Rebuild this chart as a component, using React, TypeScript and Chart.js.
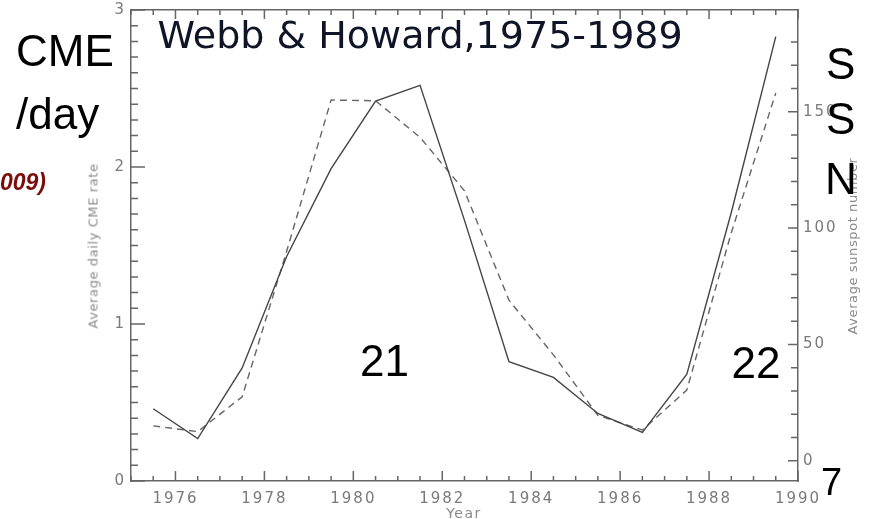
import React, { useEffect, useRef } from 'react';
import { Chart, registerables } from 'chart.js';

Chart.register(...registerables);

// ---- data ----
const years = [1975.5, 1976.5, 1977.5, 1978.5, 1979.5, 1980.5, 1981.5, 1982.5, 1983.5, 1984.5, 1985.5, 1986.5, 1987.5, 1988.5, 1989.5];
const cmeRate = [0.46, 0.27, 0.72, 1.43, 1.99, 2.42, 2.52, 1.66, 0.76, 0.66, 0.43, 0.31, 0.68, 1.71, 2.83];
const sunspotNumber = [15.0, 12.5, 27.5, 90.0, 155.0, 154.7, 139.0, 116.0, 69.0, 45.5, 19.5, 13.2, 30.4, 98.0, 158.0];

// ---- axes ----
const xRange = [1975, 1990];
const yLeftRange = [0, 3];
const yRightRange = [-8.7, 193.7];
const xMajorTicks = [1976, 1978, 1980, 1982, 1984, 1986, 1988, 1990];
const yLeftMajorTicks = [0, 1, 2, 3];
const yRightMajorTicks = [0, 50, 100, 150];
const xMinorStep = 0.5;
const yLeftMinorStep = 0.1;
const yRightMinorStep = 10;
const yRightTickMax = 180;

const AXIS_COLOR = '#666666';
const LABEL_COLOR = '#7a7a7a';

function stepTicks(from: number, to: number, step: number): number[] {
  const out: number[] = [];
  const n = Math.round((to - from) / step);
  for (let i = 0; i <= n; i++) out.push(+(from + i * step).toFixed(4));
  return out;
}
const isMajor = (v: number, list: number[]) => list.some((m) => Math.abs(m - v) < 1e-6);

const xTicks = stepTicks(xRange[0], xRange[1], xMinorStep);
const yLeftTicks = stepTicks(yLeftRange[0], yLeftRange[1], yLeftMinorStep);
const yRightTicks = stepTicks(0, yRightTickMax, yRightMinorStep);

// inward tick marks on all four sides, placed through the chart's own scales
const innerTicks = {
  id: 'innerTicks',
  beforeDraw(chart: any) {
    chart.ctx.letterSpacing = '2px';
  },
  afterDraw(chart: any) {
    const ctx = chart.ctx;
    const a = chart.chartArea;
    const xs = chart.scales['x'];
    const ys = chart.scales['y'];
    const ys2 = chart.scales['y2'];
    ctx.save();
    ctx.setLineDash([]);
    ctx.strokeStyle = AXIS_COLOR;
    ctx.lineWidth = 1.5;
    ctx.beginPath();
    for (const v of xTicks) {
      const px = xs.getPixelForValue(v);
      const major = isMajor(v, xMajorTicks);
      ctx.moveTo(px, a.bottom);
      ctx.lineTo(px, a.bottom - (major ? 10 : 5));
      ctx.moveTo(px, a.top);
      ctx.lineTo(px, a.top + (major ? 9 : 5));
    }
    for (const v of yLeftTicks) {
      const py = ys.getPixelForValue(v);
      ctx.moveTo(a.left, py);
      ctx.lineTo(a.left + (isMajor(v, yLeftMajorTicks) ? 14 : 7), py);
    }
    for (const v of yRightTicks) {
      const py = ys2.getPixelForValue(v);
      ctx.moveTo(a.right, py);
      ctx.lineTo(a.right - (isMajor(v, yRightMajorTicks) ? 10 : 7), py);
    }
    ctx.stroke();
    ctx.restore();
  },
};

const tickFont = { family: '"DejaVu Sans", sans-serif', size: 15 };

export default function App() {
  const ref = useRef<HTMLCanvasElement | null>(null);

  useEffect(() => {
    document.body.style.margin = '0';
    const canvas = ref.current;
    if (!canvas) return;
    const chart = new Chart(canvas, {
      type: 'line',
      data: {
        datasets: [
          { label: 'Average daily CME rate', data: years.map((x, i) => ({ x, y: cmeRate[i] })), borderColor: '#444444', borderWidth: 1.4, pointRadius: 0, tension: 0, xAxisID: 'x', yAxisID: 'y' },
          { label: 'Average sunspot number', data: years.map((x, i) => ({ x, y: sunspotNumber[i] })), borderColor: '#666666', borderWidth: 1.4, borderDash: [7, 5], pointRadius: 0, tension: 0, xAxisID: 'x', yAxisID: 'y2' },
        ],
      },
      plugins: [innerTicks],
      options: {
        animation: false,
        responsive: false,
        devicePixelRatio: 1,
        layout: { padding: 0 },
        plugins: { legend: { display: false }, tooltip: { enabled: false } },
        scales: {
          x: {
            type: 'linear', position: 'bottom', min: xRange[0], max: xRange[1],
            afterBuildTicks: (s: any) => { s.ticks = xTicks.map((value) => ({ value })); },
            afterFit: (s: any) => { s.height = 38; s.paddingLeft = 0; s.paddingRight = 0; },
            grid: { display: false, drawTicks: false },
            border: { display: true, color: AXIS_COLOR, width: 1.5 },
            ticks: { autoSkip: false, maxRotation: 0, minRotation: 0, padding: 9, color: LABEL_COLOR, font: tickFont, callback: (v: any) => (isMajor(Number(v), xMajorTicks) ? String(v) : '') },
          },
          xTop: {
            type: 'linear', position: 'top', min: xRange[0], max: xRange[1],
            afterFit: (s: any) => { s.height = 10; s.paddingLeft = 0; s.paddingRight = 0; },
            grid: { display: false, drawTicks: false },
            border: { display: true, color: AXIS_COLOR, width: 1.5 },
            ticks: { display: false },
          },
          y: {
            type: 'linear', position: 'left', min: yLeftRange[0], max: yLeftRange[1],
            afterBuildTicks: (s: any) => { s.ticks = yLeftTicks.map((value) => ({ value })); },
            afterFit: (s: any) => { s.width = 131; s.paddingTop = 0; s.paddingBottom = 0; },
            grid: { display: false, drawTicks: false },
            border: { display: true, color: AXIS_COLOR, width: 1.5 },
            ticks: { autoSkip: false, padding: 5, color: LABEL_COLOR, font: tickFont, callback: (v: any) => (isMajor(Number(v), yLeftMajorTicks) ? String(Math.round(Number(v))) : '') },
          },
          y2: {
            type: 'linear', position: 'right', min: yRightRange[0], max: yRightRange[1],
            afterBuildTicks: (s: any) => { s.ticks = yRightTicks.map((value) => ({ value })); },
            afterFit: (s: any) => { s.width = 72; s.paddingTop = 0; s.paddingBottom = 0; },
            grid: { display: false, drawTicks: false },
            border: { display: true, color: AXIS_COLOR, width: 1.5 },
            ticks: { autoSkip: false, padding: 5, color: LABEL_COLOR, font: tickFont, callback: (v: any) => (isMajor(Number(v), yRightMajorTicks) ? String(Math.round(Number(v))) : '') },
          },
        },
      },
    } as any);
    return () => chart.destroy();
  }, []);

  const big = { position: 'absolute' as const, fontFamily: '"Liberation Sans", Arial, sans-serif', lineHeight: 1, color: '#000', whiteSpace: 'nowrap' as const };
  const axisTitle = { position: 'absolute' as const, fontFamily: '"DejaVu Sans", sans-serif', fontSize: 13, letterSpacing: '0.6px', lineHeight: 1, color: '#8a8a8a', whiteSpace: 'nowrap' as const };

  return (
    <div style={{ position: 'absolute', left: 0, top: 0, width: 870, height: 519, overflow: 'hidden', background: '#fff' }}>
      <canvas ref={ref} width={870} height={519} style={{ position: 'absolute', left: 0, top: 0 }} />
      <div style={{ position: 'absolute', left: 157.5, top: 16, fontFamily: '"DejaVu Sans", sans-serif', fontSize: 38, lineHeight: 1, color: '#0f1526', whiteSpace: 'nowrap' }}>Webb &amp; Howard,1975-1989</div>
      <div style={{ ...axisTitle, left: 92.5, top: 246, transform: 'translate(-50%, -50%) rotate(-90deg)' }}>Average daily CME rate</div>
      <div style={{ ...axisTitle, left: 852, top: 246, transform: 'translate(-50%, -50%) rotate(-90deg)' }}>Average sunspot number</div>
      <div style={{ ...axisTitle, fontSize: 14, letterSpacing: '1.5px', left: 464, top: 506, transform: 'translateX(-50%)' }}>Year</div>
      <div style={{ ...big, fontSize: 44, left: 16, top: 29 }}>CME</div>
      <div style={{ ...big, fontSize: 44, left: 16, top: 92 }}>/day</div>
      <div style={{ ...big, fontSize: 44, left: 826, top: 42 }}>S</div>
      <div style={{ ...big, fontSize: 44, left: 826, top: 97 }}>S</div>
      <div style={{ ...big, fontSize: 44, left: 825, top: 157 }}>N</div>
      <div style={{ ...big, fontSize: 44, left: 360, top: 339 }}>21</div>
      <div style={{ ...big, fontSize: 44, left: 731.5, top: 340.5 }}>22</div>
      <div style={{ ...big, fontSize: 38, left: 821, top: 463 }}>7</div>
      <div style={{ ...big, fontSize: 23, left: 0, top: 171, fontWeight: 'bold', fontStyle: 'italic', color: '#7d0c0c' }}>009)</div>
    </div>
  );
}
